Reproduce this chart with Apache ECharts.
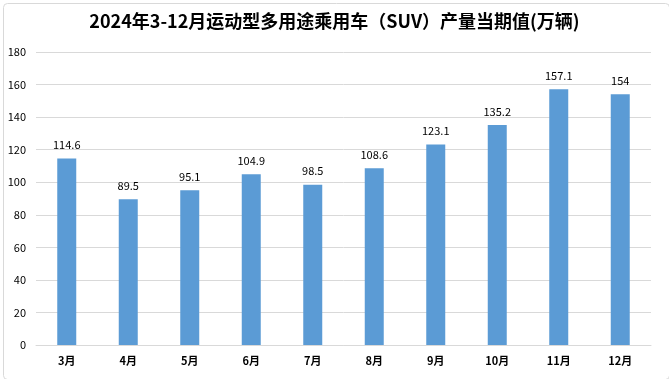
<!DOCTYPE html>
<html><head><meta charset="utf-8">
<script src="https://cdn.jsdelivr.net/npm/echarts@6/dist/echarts.min.js"></script>
<style>html,body{margin:0;padding:0;background:#fff}#c{width:669px;height:379px}</style>
</head><body><div id="c"></div>
<script>
const titleText = '2024年3-12月运动型多用途乘用车（SUV）产量当期值(万辆)';
const categories = ['3月','4月','5月','6月','7月','8月','9月','10月','11月','12月'];
const values = [114.6, 89.5, 95.1, 104.9, 98.5, 108.6, 123.1, 135.2, 157.1, 154];
const yTicks = {min: 0, max: 180, interval: 20};

const chart = echarts.init(document.getElementById('c'));
chart.setOption({
  animation: false,
  textStyle: {fontFamily: '"Noto Sans CJK SC", "Noto Sans", sans-serif'},
  title: {
    text: titleText, left: 'center', top: 7,
    textStyle: {fontSize: 18, fontWeight: 'bold', color: '#000', fontFamily: '"Noto Sans CJK SC", sans-serif'}
  },
  graphic: [{
    type: 'rect', left: 1, top: 1, shape: {width: 666, height: 376, r: 4},
    style: {fill: 'none', stroke: '#d9d9d9', lineWidth: 1}, silent: true, z: -1
  }],
  grid: {left: 36, right: 18, top: 52, bottom: 34, containLabel: false},
  xAxis: {
    type: 'category', data: categories,
    axisLine: {lineStyle: {color: '#d9d9d9'}},
    axisTick: {show: false},
    axisLabel: {color: '#000', fontSize: 11, fontWeight: 'bold', margin: 10}
  },
  yAxis: {
    type: 'value', min: yTicks.min, max: yTicks.max, interval: yTicks.interval,
    axisLine: {show: false}, axisTick: {show: false},
    axisLabel: {color: '#000', fontSize: 11, margin: 10},
    splitLine: {lineStyle: {color: '#d9d9d9'}}
  },
  series: [{
    type: 'bar', data: values, barWidth: 19,
    itemStyle: {color: '#5b9bd5'},
    label: {show: true, position: 'top', color: '#000', fontSize: 11, distance: 8}
  }]
});
</script></body></html>
